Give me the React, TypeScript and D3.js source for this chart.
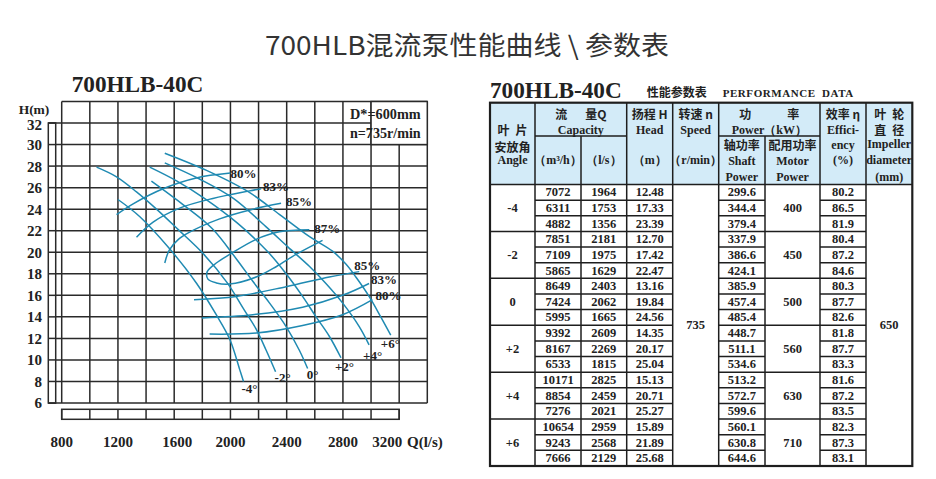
import * as d3 from "d3";

// ---- chart data (Q in l/s, H in m) ----
const qTicks = [800, 1200, 1600, 2000, 2400, 2800, 3200];
const hTicks = [6, 8, 10, 12, 14, 16, 18, 20, 22, 24, 26, 28, 30, 32];

const angleLabels = ["-4°", "-2°", "0°", "+2°", "+4°", "+6°"];
const angleCurves: [number, number][][] = [
  [[1200, 24.9], [1356, 23.3], [1569, 20.3], [1760, 17.1], [1899, 14.2], [1996, 11.9], [2066, 9.1], [2093, 8.0]],
  [[1048, 27.9], [1190, 27.0], [1332, 25.6], [1474, 24.0], [1629, 22.1], [1804, 19.9], [1975, 17.2], [2100, 14.6], [2181, 12.9], [2254, 10.9], [2321, 8.9]],
  [[1438, 26.6], [1665, 24.4], [1870, 22.2], [2041, 19.4], [2159, 17.3], [2277, 15.3], [2396, 13.1], [2490, 10.9], [2549, 9.2]],
  [[1426, 27.9], [1620, 26.6], [1815, 25.0], [2050, 22.7], [2269, 20.0], [2396, 18.0], [2513, 15.9], [2609, 14.0], [2703, 12.2], [2786, 10.2]],
  [[1533, 28.3], [1780, 26.8], [2021, 25.0], [2250, 22.4], [2408, 20.5], [2561, 18.7], [2679, 17.1], [2797, 15.3], [2916, 13.1], [2986, 11.4]],
  [[1533, 29.2], [1830, 27.6], [2129, 25.6], [2350, 23.5], [2568, 21.4], [2726, 20.1], [2821, 18.9], [2892, 17.7], [2986, 15.9], [3069, 14.0], [3140, 12.3]],
];
const angleLabelOffsets = [[-2, 12], [-1, 10], [-1, 10], [-6, 13], [-6, 15], [-10, 13]];

const effUpperLabels = ["80%", "83%", "85%", "87%"];
const effUpperCurves: [number, number][][] = [
  [[1190, 23.5], [1308, 24.5], [1521, 25.9], [1757, 26.9], [2000, 27.35]],
  [[1332, 21.4], [1450, 22.8], [1639, 24.1], [1875, 25.0], [2135, 25.7], [2218, 25.9]],
  [[1533, 19.0], [1565, 20.2], [1630, 21.2], [1700, 21.8], [1923, 23.1], [2159, 24.0], [2360, 24.55]],
  [[2655, 21.1], [2467, 19.8], [2330, 18.7], [2183, 17.7], [1994, 17.05], [1900, 17.15], [1840, 17.5], [1835, 18.2], [1899, 19.0], [1994, 19.8], [2183, 21.2], [2348, 21.9], [2561, 22.1]],
];
const effUpperOffsets = [[0, 5], [2, 2], [5, 3], [5, 3]];

const effLowerLabels = ["85%", "83%", "80%"];
const effLowerCurves: [number, number][][] = [
  [[1741, 15.6], [2041, 15.9], [2396, 16.8], [2703, 17.7], [2916, 18.2]],
  [[1797, 13.9], [2159, 14.2], [2513, 14.9], [2797, 16.0], [2986, 17.1]],
  [[1852, 12.4], [2183, 12.5], [2513, 13.2], [2797, 14.2], [3010, 15.6]],
];
const effLowerOffsets = [[-5, -2], [2, 1], [3, 0]];

// ---- table data ----
const angles = ["-4", "-2", "0", "+2", "+4", "+6"];
const flowM3h = ["7072", "6311", "4882", "7851", "7109", "5865", "8649", "7424", "5995", "9392", "8167", "6533", "10171", "8854", "7276", "10654", "9243", "7666"];
const flowLs = ["1964", "1753", "1356", "2181", "1975", "1629", "2403", "2062", "1665", "2609", "2269", "1815", "2825", "2459", "2021", "2959", "2568", "2129"];
const heads = ["12.48", "17.33", "23.39", "12.70", "17.42", "22.47", "13.16", "19.84", "24.56", "14.35", "20.17", "25.04", "15.13", "20.71", "25.27", "15.89", "21.89", "25.68"];
const shaftPower = ["299.6", "344.4", "379.4", "337.9", "386.6", "424.1", "385.9", "457.4", "485.4", "448.7", "511.1", "534.6", "513.2", "572.7", "599.6", "560.1", "630.8", "644.6"];
const motorPower = ["400", "450", "500", "560", "630", "710"];
const efficiency = ["80.2", "86.5", "81.9", "80.4", "87.2", "84.6", "80.3", "87.7", "82.6", "81.8", "87.7", "83.3", "81.6", "87.2", "83.5", "82.3", "87.3", "83.1"];
const speed = "735";
const impeller = "650";

const SERIF = "'Liberation Serif', 'DejaVu Serif', serif";
const CJK = "'Noto Sans CJK SC', 'Noto Sans', sans-serif";
const GRID = "#2a2a2a";
const CURVE = "#1f8ab2";
const HEAD_BG = "#d3ebf8";

const x = d3.scaleLinear().domain([800, 3400]).range([61.7, 427.3]);
const y = d3.scaleLinear().domain([6, 34]).range([403, 101.5]);
const line = d3
  .line<[number, number]>()
  .x((d) => x(d[0]))
  .y((d) => y(d[1]))
  .curve(d3.curveCatmullRom.alpha(0.5));

function Chart() {
  const qGrid = d3.range(800, 3401, 200);
  const hGrid = d3.range(6, 35, 2);
  const stripL = 48.3;
  const stripR = 55.7;
  return (
    <g>
      <text x={71.7} y={92} fontFamily={SERIF} fontWeight="bold" fontSize={23} textLength={131.7} lengthAdjust="spacingAndGlyphs" fill="#222">
        700HLB-40C
      </text>
      {/* grid */}
      {hGrid.map((h) => (
        <line key={"h" + h} x1={h <= 32 ? stripL : x(800)} x2={x(3400)} y1={y(h)} y2={y(h)} stroke={GRID} strokeWidth={1.5} />
      ))}
      {qGrid.map((q) => (
        <line key={"v" + q} x1={x(q)} x2={x(q)} y1={y(6)} y2={y(34)} stroke={GRID} strokeWidth={1.5} />
      ))}
      {/* left ruler strip */}
      <rect x={stripL} y={y(32)} width={stripR - stripL} height={y(6) - y(32)} fill="#fff" stroke={GRID} strokeWidth={1.5} />
      {hTicks.map((h) => (
        <line key={"s" + h} x1={stripL} x2={stripR} y1={y(h)} y2={y(h)} stroke={GRID} strokeWidth={1.5} />
      ))}
      {/* bottom ruler strip */}
      <rect x={x(800)} y={409.3} width={x(3200) - x(800)} height={10} fill="#fff" stroke={GRID} strokeWidth={1.5} />
      {d3.range(800, 3201, 200).map((q) => (
        <line key={"b" + q} x1={x(q)} x2={x(q)} y1={409.3} y2={419.3} stroke={GRID} strokeWidth={1.5} />
      ))}
      {/* info box */}
      <rect x={x(3000)} y={y(34)} width={x(3400) - x(3000)} height={y(30) - y(34)} fill="#fff" stroke={GRID} strokeWidth={1.5} />
      <text x={350} y={119} fontFamily={SERIF} fontWeight="bold" fontSize={14} textLength={70.7} lengthAdjust="spacingAndGlyphs" fill="#222">
        D*=600mm
      </text>
      <text x={350} y={138} fontFamily={SERIF} fontWeight="bold" fontSize={14} textLength={70.7} lengthAdjust="spacingAndGlyphs" fill="#222">
        n=735r/min
      </text>
      {/* tick labels */}
      {hTicks.map((h) => (
        <text key={"yl" + h} x={42} y={y(h) + (h === 32 ? 2 : 0)} dy="0.36em" textAnchor="end" fontFamily={SERIF} fontWeight="bold" fontSize={15} fill="#222">
          {h}
        </text>
      ))}
      <text x={34} y={114} textAnchor="middle" fontFamily={SERIF} fontWeight="bold" fontSize={13.5} fill="#222">
        H(m)
      </text>
      {qTicks.map((q) => (
        <text key={"xl" + q} x={x(q) + (q === 3200 ? -12 : q === 1600 ? 3 : 0)} y={447} textAnchor="middle" fontFamily={SERIF} fontWeight="bold" fontSize={15} fill="#222">
          {q}
        </text>
      ))}
      <text x={407} y={447} fontFamily={SERIF} fontWeight="bold" fontSize={15} fill="#222">
        Q(l/s)
      </text>
      {/* curves */}
      {[...angleCurves, ...effUpperCurves, ...effLowerCurves].map((c, i) => (
        <path key={"c" + i} d={line(c) || ""} fill="none" stroke={CURVE} strokeWidth={1.5} />
      ))}
      {angleCurves.map((c, i) => {
        const p = c[c.length - 1];
        return (
          <text key={"al" + i} x={x(p[0]) + angleLabelOffsets[i][0]} y={y(p[1]) + angleLabelOffsets[i][1]} fontFamily={SERIF} fontWeight="bold" fontSize={13} fill="#222">
            {angleLabels[i]}
          </text>
        );
      })}
      {effUpperCurves.map((c, i) => {
        const p = c[c.length - 1];
        return (
          <text key={"eu" + i} x={x(p[0]) + effUpperOffsets[i][0]} y={y(p[1]) + effUpperOffsets[i][1]} fontFamily={SERIF} fontWeight="bold" fontSize={13} fill="#222">
            {effUpperLabels[i]}
          </text>
        );
      })}
      {effLowerCurves.map((c, i) => {
        const p = c[c.length - 1];
        return (
          <text key={"el" + i} x={x(p[0]) + effLowerOffsets[i][0]} y={y(p[1]) + effLowerOffsets[i][1]} fontFamily={SERIF} fontWeight="bold" fontSize={13} fill="#222">
            {effLowerLabels[i]}
          </text>
        );
      })}
    </g>
  );
}

function Table() {
  const cols = [490, 535, 581, 626.7, 672.7, 718.7, 765, 820, 866, 912.3];
  const top = 102.7;
  const mid = 136;
  const headBottom = 184.5;
  const bottom = 466;
  const rows = d3.scaleBand<number>().domain(d3.range(18)).range([headBottom, bottom]);
  const bw = rows.bandwidth();
  const cx = (a: number, b: number) => (cols[a] + cols[b]) / 2;
  const stroke = "#1e1e1e";
  const t = (key: string, xx: number, yy: number, s: string, cjk = false, size = 12) => (
    <text key={key} x={xx} y={yy} textAnchor="middle" dominantBaseline="central" fontFamily={cjk ? CJK : SERIF} fontWeight="bold" fontSize={size} fill="#222" style={{ whiteSpace: "pre" }}>
      {s}
    </text>
  );
  const rowLineCols = [1, 2, 3, 5, 7];
  const groupLineCols = [0, 6];
  return (
    <g>
      <text x={490} y={98.3} fontFamily={SERIF} fontWeight="bold" fontSize={24} textLength={131.7} lengthAdjust="spacingAndGlyphs" fill="#222">
        700HLB-40C
      </text>
      <text x={646.7} y={96.5} fontFamily={CJK} fontWeight="bold" fontSize={12} textLength={60} lengthAdjust="spacingAndGlyphs" fill="#222">
        性能参数表
      </text>
      <text x={722.7} y={96.7} fontFamily={SERIF} fontWeight="bold" fontSize={11} textLength={130.6} lengthAdjust="spacing" fill="#222" style={{ whiteSpace: "pre" }}>
        PERFORMANCE  DATA
      </text>
      <rect x={cols[0]} y={top} width={cols[9] - cols[0]} height={headBottom - top} fill={HEAD_BG} />
      {/* header lines */}
      <line x1={cols[1]} x2={cols[3]} y1={mid} y2={mid} stroke={stroke} strokeWidth={1.5} />
      <line x1={cols[5]} x2={cols[7]} y1={mid} y2={mid} stroke={stroke} strokeWidth={1.5} />
      {[1, 3, 4, 5, 7, 8].map((c) => (
        <line key={"hv" + c} x1={cols[c]} x2={cols[c]} y1={top} y2={bottom} stroke={stroke} strokeWidth={1.5} />
      ))}
      {[2, 6].map((c) => (
        <line key={"hv2" + c} x1={cols[c]} x2={cols[c]} y1={mid} y2={bottom} stroke={stroke} strokeWidth={1.5} />
      ))}
      <line x1={cols[0]} x2={cols[9]} y1={headBottom} y2={headBottom} stroke={stroke} strokeWidth={1.5} />
      {/* body lines */}
      {d3.range(1, 18).map((i) =>
        rowLineCols.map((c) => (
          <line key={"r" + i + "-" + c} x1={cols[c]} x2={cols[c + 1]} y1={rows(i)!} y2={rows(i)!} stroke={stroke} strokeWidth={1.5} />
        ))
      )}
      {[3, 6, 9, 12, 15].map((i) =>
        groupLineCols.map((c) => (
          <line key={"g" + i + "-" + c} x1={cols[c]} x2={cols[c + 1]} y1={rows(i)!} y2={rows(i)!} stroke={stroke} strokeWidth={1.5} />
        ))
      )}
      <rect x={cols[0]} y={top} width={cols[9] - cols[0]} height={bottom - top} fill="none" stroke={stroke} strokeWidth={2.2} />
      {/* header text */}
      {t("h1a", cx(0, 1), 129, "叶\u2002片", true)}
      {t("h1b", cx(0, 1), 146, "安放角", true)}
      {t("h1c", cx(0, 1), 160, "Angle")}
      {t("h2a", cx(1, 3), 113, "流\u2003\u2002量Q", true)}
      {t("h2b", cx(1, 3), 130, "Capacity")}
      {t("h2c", cx(1, 2), 160, "（m³/h）")}
      {t("h3c", cx(2, 3), 160, "（l/s）")}
      {t("h4a", cx(3, 4), 113, "扬程 H", true)}
      {t("h4b", cx(3, 4), 130, "Head")}
      {t("h4c", cx(3, 4), 160, "（m）")}
      {t("h5a", cx(4, 5), 113, "转速 n", true)}
      {t("h5b", cx(4, 5), 130, "Speed")}
      {t("h5c", cx(4, 5), 160, "（r/min）")}
      {t("h6a", cx(5, 7), 113, "功\u2003\u2003\u2003率", true)}
      {t("h6b", cx(5, 7), 130, "Power（kW）")}
      {t("h6c", cx(5, 6), 144, "轴功率", true)}
      {t("h6d", cx(5, 6), 160.5, "Shaft")}
      {t("h6e", cx(5, 6), 176.5, "Power")}
      {t("h7c", cx(6, 7), 144, "配用功率", true)}
      {t("h7d", cx(6, 7), 160.5, "Motor")}
      {t("h7e", cx(6, 7), 176.5, "Power")}
      {t("h8a", cx(7, 8), 113, "效率 η", true)}
      {t("h8b", cx(7, 8), 130, "Effici-")}
      {t("h8c", cx(7, 8), 145, "ency")}
      {t("h8d", cx(7, 8), 160, "(%)")}
      {t("h9a", cx(8, 9), 113, "叶\u2002轮", true)}
      {t("h9b", cx(8, 9), 129.5, "直\u2002径", true)}
      {t("h9c", cx(8, 9), 144, "Impeller")}
      {t("h9d", cx(8, 9), 160, "diameter")}
      {t("h9e", cx(8, 9), 176.5, "(mm)")}
      {/* body text */}
      {flowM3h.map((v, i) => t("m" + i, cx(1, 2), rows(i)! + bw / 2, v, false, 12.5))}
      {flowLs.map((v, i) => t("l" + i, cx(2, 3), rows(i)! + bw / 2, v, false, 12.5))}
      {heads.map((v, i) => t("hd" + i, cx(3, 4), rows(i)! + bw / 2, v, false, 12.5))}
      {shaftPower.map((v, i) => t("sp" + i, cx(5, 6), rows(i)! + bw / 2, v, false, 12.5))}
      {efficiency.map((v, i) => t("ef" + i, cx(7, 8), rows(i)! + bw / 2, v, false, 12.5))}
      {angles.map((v, i) => t("an" + i, cx(0, 1), rows(i * 3 + 1)! + bw / 2, v, false, 12.5))}
      {motorPower.map((v, i) => t("mp" + i, cx(6, 7), rows(i * 3 + 1)! + bw / 2, v, false, 12.5))}
      {t("spd", cx(4, 5), (headBottom + bottom) / 2, speed, false, 12.5)}
      {t("imp", cx(8, 9), (headBottom + bottom) / 2, impeller, false, 12.5)}
    </g>
  );
}

export default function App() {
  return (
    <svg width={936} height={479} viewBox="0 0 936 479" style={{ position: "absolute", left: 0, top: 0, background: "#fff" }}>
      <rect width={936} height={479} fill="#fff" />
      <text x={467} y={55} textAnchor="middle" fontFamily={CJK} fontSize={26} textLength={404} lengthAdjust="spacingAndGlyphs" fill="#333" style={{ whiteSpace: "pre" }}>
        700HLB混流泵性能曲线 \ 参数表
      </text>
      <Chart />
      <Table />
    </svg>
  );
}
